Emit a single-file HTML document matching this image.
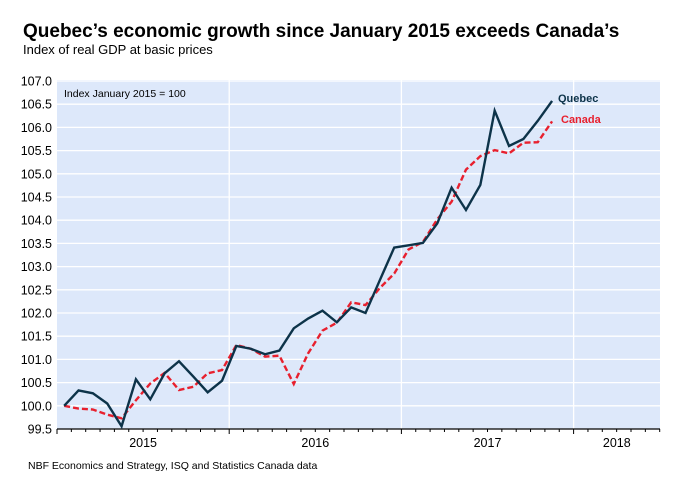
<!DOCTYPE html>
<html><head><meta charset="utf-8"><style>
body{margin:0;background:#fff;font-family:"Liberation Sans",Arial,sans-serif}
svg text{font-family:"Liberation Sans",Arial,sans-serif}
</style></head><body>
<svg id="c" width="698" height="490" xmlns="http://www.w3.org/2000/svg">
<text x="23" y="37" font-size="19" font-weight="bold" fill="#000">Quebec’s economic growth since January 2015 exceeds Canada’s</text>
<text x="23" y="54" font-size="13" fill="#000">Index of real GDP at basic prices</text>
<rect x="57" y="80" width="603" height="349" fill="#dde8fa"/>
<g id="grid"></g>
<text x="64" y="97" font-size="10.5" fill="#000">Index January 2015 = 100</text>
<g id="series"></g>
<text x="558" y="102" font-size="11" font-weight="bold" fill="#0d3349">Quebec</text>
<text x="561" y="123" font-size="11" font-weight="bold" fill="#e8202e">Canada</text>
<text x="28" y="469" font-size="10.5" fill="#000">NBF Economics and Strategy, ISQ and Statistics Canada data</text>
</svg>
<script>
const yTicks=[99.5,100.0,100.5,101.0,101.5,102.0,102.5,103.0,103.5,104.0,104.5,105.0,105.5,106.0,106.5,107.0];
const yearLabels=["2015","2016","2017","2018"];
const quebec=[100.0,100.33,100.27,100.05,99.56,100.57,100.14,100.70,100.96,100.63,100.29,100.54,101.29,101.23,101.11,101.19,101.67,101.88,102.05,101.80,102.12,102.00,102.71,103.41,103.46,103.51,103.93,104.70,104.22,104.76,106.36,105.60,105.75,106.14,106.57];
const canada=[100.0,99.94,99.92,99.81,99.73,100.12,100.48,100.71,100.34,100.41,100.70,100.77,101.31,101.23,101.06,101.08,100.47,101.13,101.62,101.79,102.23,102.17,102.54,102.85,103.37,103.53,104.02,104.40,105.09,105.38,105.51,105.44,105.67,105.68,106.13];
const NS="http://www.w3.org/2000/svg";
const L=57,R=660,T=81,B=429,MW=14.35;
const y=v=>B-(v-99.5)/(107-99.5)*(B-T);
const x=i=>L+MW*(i+0.5);
const grid=document.getElementById('grid'),ser=document.getElementById('series');
function mk(tag,attrs,parent){const e=document.createElementNS(NS,tag);for(const k in attrs)e.setAttribute(k,attrs[k]);parent.appendChild(e);return e;}
yTicks.forEach(v=>{
 const ln=mk('line',{x1:L,x2:R,y1:y(v),y2:y(v),stroke:'#fff','stroke-width':1.3},grid);
 
 
 const t=mk('text',{x:52,y:y(v)+4.5,'font-size':12.5,'text-anchor':'end',fill:'#000'},grid);
 t.textContent=v.toFixed(1);
 
 
});
for(let yr=0;yr<4;yr++){
 const xs=L+yr*12*MW;
 if(yr>0){const g=mk('line',{x1:xs,x2:xs,y1:T-1,y2:B,stroke:'#fff','stroke-width':1.3},grid);
 
 }
 const lx=yr<3?xs+6*MW:(xs+R)/2;
 const t=mk('text',{x:lx,y:447,'font-size':12.5,'text-anchor':'middle',fill:'#000'},grid);
 t.textContent=yearLabels[yr];
 
 
}
for(let m=0;m<=42;m++){const xs=L+m*MW;if(xs>R+1)break;
 const tk=mk('line',{x1:xs,x2:xs,y1:B,y2:B+(m%12==0?5:3),stroke:'#000','stroke-width':1},grid);
 
 }
const ax=mk('line',{x1:L,x2:R,y1:B,y2:B,stroke:'#000','stroke-width':1.2},grid);


const cp=mk('polyline',{points:canada.map((v,i)=>x(i)+','+y(v)).join(' '),fill:'none',stroke:'#e8202e','stroke-width':2.4,'stroke-dasharray':'6,3'},ser);


const qp=mk('polyline',{points:quebec.map((v,i)=>x(i)+','+y(v)).join(' '),fill:'none',stroke:'#0d3349','stroke-width':2.4},ser);


</script>
</body></html>
